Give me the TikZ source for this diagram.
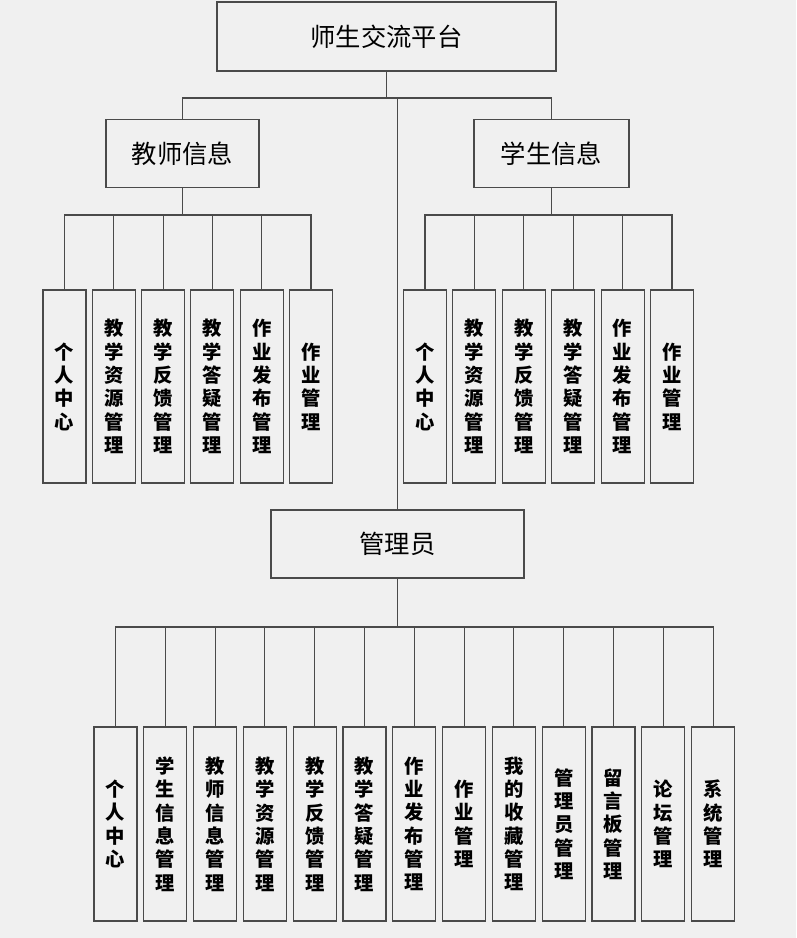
\documentclass[tikz,border=0pt]{standalone}
\usepackage{fontspec}
\setmainfont{Noto Sans CJK SC}
\definecolor{bggray}{HTML}{F0F0F0}
\definecolor{linegray}{HTML}{4A4A4A}
\begin{document}
\begin{tikzpicture}[x=0.75pt, y=-0.75pt, line width=0.8pt]
\tikzstyle{headbox}=[draw=linegray, fill=bggray, inner sep=0pt, minimum height=50.5pt, font=\fontsize{19}{22}\selectfont]
\tikzstyle{leafbox}=[draw=linegray, fill=bggray, inner sep=0pt, minimum width=32.25pt, align=center, font=\bfseries\fontsize{14.5}{17.5}\selectfont]
\tikzstyle{upper}=[leafbox, minimum height=144.75pt]
\tikzstyle{lower}=[leafbox, minimum height=145.5pt]
\fill[bggray] (0,0) rectangle (796,938);
\useasboundingbox (0,0) rectangle (796,938);
\coordinate (B0) at (0,98);
\coordinate (B1) at (0,215);
\coordinate (B2) at (0,627);
\node[headbox, minimum width=254.25pt, minimum height=51.75pt] (T) at (386.5,36.5) {师生交流平台};
\node[headbox, minimum width=114.75pt] (TI) at (182.5,153.5) {教师信息};
\node[headbox, minimum width=116.25pt] (SI) at (551.5,153.5) {学生信息};
\node[headbox, minimum width=189.75pt, minimum height=51pt] (AD) at (397.5,544) {管理员};
\node[upper] (T1) at (64.5,386.5) {个\\人\\中\\心};
\node[upper] (T2) at (113.8,386.5) {教\\学\\资\\源\\管\\理};
\node[upper] (T3) at (163.1,386.5) {教\\学\\反\\馈\\管\\理};
\node[upper] (T4) at (212.4,386.5) {教\\学\\答\\疑\\管\\理};
\node[upper] (T5) at (261.7,386.5) {作\\业\\发\\布\\管\\理};
\node[upper] (T6) at (311,386.5) {作\\业\\管\\理};
\node[upper] (S1) at (425,386.5) {个\\人\\中\\心};
\node[upper] (S2) at (474.4,386.5) {教\\学\\资\\源\\管\\理};
\node[upper] (S3) at (523.8,386.5) {教\\学\\反\\馈\\管\\理};
\node[upper] (S4) at (573.2,386.5) {教\\学\\答\\疑\\管\\理};
\node[upper] (S5) at (622.6,386.5) {作\\业\\发\\布\\管\\理};
\node[upper] (S6) at (672,386.5) {作\\业\\管\\理};
\node[lower] (A1) at (115.5,824) {个\\人\\中\\心};
\node[lower] (A2) at (165.3,824) {学\\生\\信\\息\\管\\理};
\node[lower] (A3) at (215.1,824) {教\\师\\信\\息\\管\\理};
\node[lower] (A4) at (264.9,824) {教\\学\\资\\源\\管\\理};
\node[lower] (A5) at (314.7,824) {教\\学\\反\\馈\\管\\理};
\node[lower] (A6) at (364.5,824) {教\\学\\答\\疑\\管\\理};
\node[lower] (A7) at (414.3,824) {作\\业\\发\\布\\管\\理};
\node[lower] (A8) at (464.1,824) {作\\业\\管\\理};
\node[lower] (A9) at (513.9,824) {我\\的\\收\\藏\\管\\理};
\node[lower] (A10) at (563.7,824) {管\\理\\员\\管\\理};
\node[lower] (A11) at (613.5,824) {留\\言\\板\\管\\理};
\node[lower] (A12) at (663.3,824) {论\\坛\\管\\理};
\node[lower] (A13) at (713.1,824) {系\\统\\管\\理};
% top level
\draw[linegray] (T.south) -- (T.south |- B0) -| (TI.north);
\draw[linegray] (T.south |- B0) -| (SI.north);
\draw[linegray] (AD.north) -- (AD.north |- B0);
% teacher
\draw[linegray] (TI.south) -- (TI.south |- B1) -| (T1.north);
\draw[linegray] (TI.south |- B1) -| (T2.north);
\draw[linegray] (TI.south |- B1) -| (T3.north);
\draw[linegray] (TI.south |- B1) -| (T4.north);
\draw[linegray] (TI.south |- B1) -| (T5.north);
\draw[linegray] (TI.south |- B1) -| (T6.north);
% student
\draw[linegray] (SI.south) -- (SI.south |- B1) -| (S1.north);
\draw[linegray] (SI.south |- B1) -| (S2.north);
\draw[linegray] (SI.south |- B1) -| (S3.north);
\draw[linegray] (SI.south |- B1) -| (S4.north);
\draw[linegray] (SI.south |- B1) -| (S5.north);
\draw[linegray] (SI.south |- B1) -| (S6.north);
% admin
\draw[linegray] (AD.south) -- (AD.south |- B2) -| (A1.north);
\draw[linegray] (AD.south |- B2) -| (A2.north);
\draw[linegray] (AD.south |- B2) -| (A3.north);
\draw[linegray] (AD.south |- B2) -| (A4.north);
\draw[linegray] (AD.south |- B2) -| (A5.north);
\draw[linegray] (AD.south |- B2) -| (A6.north);
\draw[linegray] (AD.south |- B2) -| (A7.north);
\draw[linegray] (AD.south |- B2) -| (A8.north);
\draw[linegray] (AD.south |- B2) -| (A9.north);
\draw[linegray] (AD.south |- B2) -| (A10.north);
\draw[linegray] (AD.south |- B2) -| (A11.north);
\draw[linegray] (AD.south |- B2) -| (A12.north);
\draw[linegray] (AD.south |- B2) -| (A13.north);
\end{tikzpicture}
\end{document}
